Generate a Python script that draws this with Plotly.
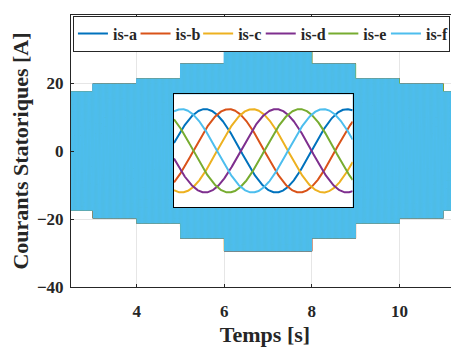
import numpy as np
import plotly.graph_objects as go

# ---- data ----
names = ["is-a", "is-b", "is-c", "is-d", "is-e", "is-f"]
colors = ["#0072BD", "#D95319", "#EDB120", "#7E2F8E", "#77AC30", "#4DBEEE"]
phase_deg = [0, -60, -120, -180, -240, -300]          # six-phase, 60 deg apart
seg_edges = [2.5, 3.0, 4.0, 5.0, 6.0, 8.0, 9.0, 10.0, 11.0, 11.3]   # s
seg_amp = [17.5, 19.8, 21.3, 25.7, 29.5, 25.7, 21.3, 19.8, 17.5]   # A (peak)
freq_hz = 50.0
x_ticks = [4, 6, 8, 10]
y_ticks = [-40, -20, 0, 20, 40]
inset_window = [7.0006, 7.0258]

FONT = "Liberation Serif, Times New Roman, DejaVu Serif, serif"
AX = "#262626"


def amplitude(t):
    idx = np.clip(np.searchsorted(seg_edges, t, side="right") - 1, 0, len(seg_amp) - 1)
    return np.asarray(seg_amp)[idx]


def current(t, ph):
    return amplitude(t) * np.sin(2 * np.pi * freq_hz * t + np.deg2rad(ph))


t_main = np.arange(seg_edges[0], seg_edges[-1], 1 / 2000.0)
t_in = np.linspace(inset_window[0], inset_window[1], 500)

fig = go.Figure()
for n, c, ph in zip(names, colors, phase_deg):
    fig.add_trace(go.Scatter(x=t_main, y=current(t_main, ph), mode="lines", name=n,
                             legendgroup=n, showlegend=False,
                             line=dict(color=c, width=1), xaxis="x", yaxis="y"))
for n, c, ph in zip(names, colors, phase_deg):
    fig.add_trace(go.Scatter(x=t_in, y=current(t_in, ph), mode="lines", name=n,
                             legendgroup=n, showlegend=True, line=dict(color=c, width=2),
                             xaxis="x2", yaxis="y2"))

fig.add_shape(type="rect", xref="x2 domain", yref="y2 domain", x0=0, x1=1, y0=0, y1=1,
              fillcolor="white", line=dict(width=0), layer="below")

# page body has an 8px default margin, so the figure is 8px smaller at left/top
fig.update_layout(
    width=451, height=339,
    margin=dict(l=63, r=0, t=7, b=60),
    paper_bgcolor="white", plot_bgcolor="white",
    font=dict(family=FONT, color=AX, size=17, weight="bold"),
    showlegend=True,
    legend=dict(orientation="h", x=0.005, y=0.998, xanchor="left", yanchor="top",
                bgcolor="white", bordercolor=AX, borderwidth=1,
                entrywidth=17.6, entrywidthmode="pixels",
                font=dict(family=FONT, size=16, color=AX, weight="bold"),
                tracegroupgap=0),
    xaxis=dict(domain=[0, 1], range=[2.5, 11.36], tickvals=x_ticks, automargin=False,
               ticks="inside", ticklen=3, tickcolor=AX, showline=True, linecolor=AX,
               linewidth=1, mirror="ticks", showgrid=True, gridcolor="#e6e6e6", zeroline=False,
               tickfont=dict(family=FONT, size=17, weight="bold"), ticklabelstandoff=9,
               title=dict(text="Temps [s]", font=dict(family=FONT, size=22, weight="bold"),
                          standoff=7)),
    yaxis=dict(domain=[0, 1], range=[-40, 40], tickvals=y_ticks, automargin=False,
               ticks="inside", ticklen=3, tickcolor=AX, showline=True, linecolor=AX,
               linewidth=1, showgrid=True, gridcolor="#e6e6e6", zeroline=False,
               tickfont=dict(family=FONT, size=17, weight="bold"), ticklabelstandoff=3,
               title=dict(text="Courants Statoriques [A]",
                          font=dict(family=FONT, size=22, weight="bold"), standoff=3)),
    xaxis2=dict(domain=[0.2655, 0.726], anchor="y2", range=inset_window,
                showticklabels=False, ticks="", showgrid=False, zeroline=False,
                showline=True, mirror=True, linecolor="black", linewidth=1),
    yaxis2=dict(domain=[0.293, 0.7085], anchor="x2", range=[-40, 40],
                showticklabels=False, ticks="", showgrid=False, zeroline=False,
                showline=True, mirror=True, linecolor="black", linewidth=1),
)

fig.write_html("out.html")
